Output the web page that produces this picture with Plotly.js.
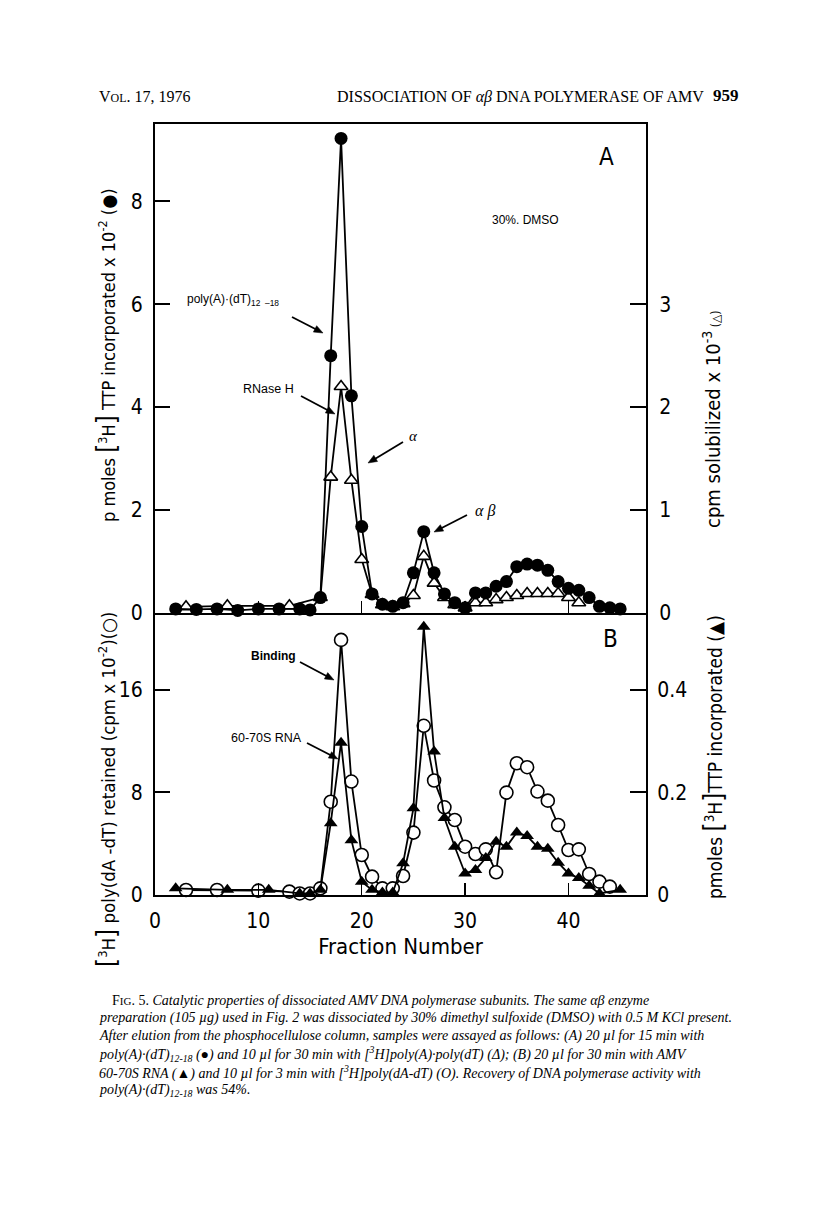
<!DOCTYPE html>
<html><head><meta charset="utf-8">
<script src="https://cdn.plot.ly/plotly-3.0.1.min.js"></script>
<style>html,body{margin:0;padding:0;background:#fff}</style>
</head><body><div id="chart" style="width:816px;height:1207px"></div>
<script>
// ---------- DATA ----------
// Panel A: pmoles [3H]TTP incorporated x 10^-2 with poly(A)·(dT)12-18 (filled circles, left axis)
const fractionsA_circ = [2,4,6,8,10,12,14,15,16,17,18,19,20,21,22,23,24,25,26,27,28,29,30,31,32,33,34,35,36,37,38,39,40,41,42,43,44,45];
const pmolesA_circ   = [0.08,0.07,0.08,0.05,0.08,0.08,0.08,0.06,0.3,5.0,9.22,4.22,1.68,0.37,0.17,0.13,0.2,0.78,1.58,0.78,0.37,0.2,0.1,0.39,0.39,0.52,0.61,0.9,0.95,0.93,0.83,0.61,0.48,0.44,0.3,0.13,0.1,0.08];
// Panel A: cpm solubilized x 10^-3 (RNase H, open triangles, right axis)
const fractionsA_tri = [3,7,13,16,17,18,19,20,21,22,23,24,25,26,27,28,29,30,31,32,33,34,35,36,37,38,39,40,41];
const cpmA_tri       = [0.06,0.07,0.07,0.15,1.32,2.2,1.29,0.52,0.18,0.08,0.06,0.09,0.17,0.55,0.29,0.15,0.08,0.05,0.1,0.1,0.13,0.15,0.17,0.19,0.19,0.19,0.19,0.15,0.1];
// Panel B: [3H]poly(dA-dT) retained, cpm x 10^-2 (Binding, open circles, left axis)
const fractionsB_circ = [3,6,10,13,14,15,16,17,18,19,20,21,22,23,24,25,26,27,28,29,30,31,32,33,34,35,36,37,38,39,40,41,42,43,44];
const bindingB_circ   = [0.39,0.39,0.34,0.26,0.12,0.12,0.52,7.28,19.9,8.85,3.12,1.43,0.52,0.52,1.48,4.87,13.2,8.93,6.84,5.85,3.77,3.2,3.56,1.77,7.99,10.28,9.97,8.07,7.36,5.46,3.51,3.56,1.64,1.04,0.65];
// Panel B: pmoles [3H]TTP incorporated with 60-70S RNA (filled triangles, right axis)
const fractionsB_tri = [2,7,11,14,15,16,17,18,19,20,21,22,23,24,25,26,27,28,29,30,31,32,33,34,35,36,37,38,39,40,41,42,43,45];
const pmolesB_tri    = [0.013,0.01,0.01,0.003,0.003,0.01,0.14,0.297,0.107,0.026,0.01,0.005,0.005,0.062,0.169,0.523,0.28,0.15,0.094,0.042,0.049,0.072,0.104,0.094,0.122,0.115,0.094,0.09,0.063,0.042,0.033,0.018,0.003,0.01];

const xTicks = [0,10,20,30,40];
const yTicksA_left = [0,2,4,6,8];
const yTicksA_right = [0,1,2,3];
const yTicksB_left = [0,8,16];
const yTicksB_right = [0,0.2,0.4];
const yTickTextB_right = ['0','0.2','0.4'];

// ---------- LAYOUT HELPERS ----------
const L = 155, R = 646, T = 124, B = 895, SPLIT = 613;
const W = 816, H = 1207;
const px = x => (x - L) / (R - L);
const py = y => (B - y) / (B - T);
const splitDom = py(SPLIT);

const SANS = "Liberation Sans Narrow, DejaVu Sans Condensed, Liberation Sans, Arial, sans-serif";
const PLAIN = "Liberation Sans, Arial, sans-serif";
const SERIF = "Liberation Serif, DejaVu Serif, Times New Roman, serif";

const lineStyle = {color: '#000', width: 1.8};

const traces = [
  { x: fractionsA_tri, y: cpmA_tri, xaxis: 'x2', yaxis: 'y', mode: 'lines+markers',
    line: lineStyle, marker: {symbol: 'triangle-up', size: 12, color: '#fff', line: {color: '#000', width: 1.6}},
    name: 'RNase H', showlegend: false, cliponaxis: false },
  { x: fractionsA_circ, y: pmolesA_circ, xaxis: 'x2', yaxis: 'y2', mode: 'lines+markers',
    line: lineStyle, marker: {symbol: 'circle', size: 13, color: '#000'},
    name: 'poly(A)·(dT)12-18', showlegend: false, cliponaxis: false },
  { x: fractionsB_circ, y: bindingB_circ, xaxis: 'x', yaxis: 'y3', mode: 'lines+markers',
    line: lineStyle, marker: {symbol: 'circle', size: 13, color: '#fff', line: {color: '#000', width: 1.6}},
    name: 'Binding', showlegend: false, cliponaxis: false },
  { x: fractionsB_tri, y: pmolesB_tri, xaxis: 'x', yaxis: 'y4', mode: 'lines+markers',
    line: lineStyle, marker: {symbol: 'triangle-up', size: 12, color: '#000'},
    name: '60-70S RNA', showlegend: false, cliponaxis: false }
];

const axCommon = {showgrid: false, zeroline: false, showline: true, linecolor: '#000', linewidth: 2,
  ticks: 'inside', tickcolor: '#000', tickwidth: 2, fixedrange: true,
  tickfont: {family: SANS, size: 21, color: '#000'}};

function ann(text, x, y, opts) {
  return Object.assign({text: text, x: px(x), y: py(y), xref: 'paper', yref: 'paper',
    showarrow: false, xanchor: 'center', yanchor: 'middle',
    font: {family: SANS, size: 13, color: '#000'}}, opts || {});
}
// pointer arrows drawn as shapes (line + filled head), from tail (tx,ty) to head (hx,hy) in page pixels
const shapes = [];
function arrow(hx, hy, tx, ty) {
  const dx = hx - tx, dy = hy - ty, len = Math.hypot(dx, dy);
  const ux = dx / len, uy = dy / len, nx = -uy, ny = ux;
  const hl = 9, hw = 3.6;
  const bx = hx - ux * hl, by = hy - uy * hl;
  shapes.push({type: 'line', xref: 'paper', yref: 'paper', x0: px(tx), y0: py(ty), x1: px(bx + ux * 2), y1: py(by + uy * 2),
    line: {color: '#000', width: 1.8}});
  shapes.push({type: 'path', xref: 'paper', yref: 'paper', fillcolor: '#000', line: {color: '#000', width: 0.5},
    path: `M ${px(hx)} ${py(hy)} L ${px(bx + nx * hw)} ${py(by + ny * hw)} L ${px(bx - nx * hw)} ${py(by - ny * hw)} Z`});
}
const big = s => "<span style='font-size:26px'>" + s + "</span>";

const annotations = [
  // header
  ann("V<span style='font-size:12px'>OL</span>. 17, 1976", 97, 97, {xanchor: 'left', font: {family: SERIF, size: 16, color: '#000'}}),
  ann("DISSOCIATION OF <i>αβ</i> DNA POLYMERASE OF AMV", 706, 97, {xanchor: 'right', font: {family: SERIF, size: 16, color: '#000'}}),
  ann("<b>959</b>", 711, 96, {xanchor: 'left', font: {family: SERIF, size: 17, color: '#000'}}),
  // panel letters and notes
  ann("A", 606, 157, {font: {family: SANS, size: 24, color: '#000'}}),
  ann("B", 610, 639, {font: {family: SANS, size: 24, color: '#000'}}),
  ann("30%. DMSO", 525, 220, {font: {family: PLAIN, size: 12, color: '#000'}}),
  ann("poly(A)·(dT)<sub>12  –18</sub>", 185, 300, {xanchor: 'left', font: {family: PLAIN, size: 12, color: '#000'}}),
  ann("RNase H", 241, 389, {xanchor: 'left', font: {family: PLAIN, size: 12.5, color: '#000'}}),
  ann("<i>α</i>", 413, 436, {font: {family: SERIF, size: 15, color: '#000'}}),
  ann("<i>α β</i>", 485, 511, {font: {family: SERIF, size: 16, color: '#000'}}),
  ann("<b>Binding</b>", 249, 656, {xanchor: 'left', font: {family: PLAIN, size: 12, color: '#000'}}),
  ann("60-70S RNA", 229, 738, {xanchor: 'left', font: {family: PLAIN, size: 12.5, color: '#000'}}),
  // axis titles
  ann("p moles " + big("[") + "<sup>3</sup>H" + big("]") + " TTP incorporated x 10<sup>-2</sup> (●)", 106, 355,
      {textangle: -90, font: {family: SANS, size: 18, color: '#000'}}),
  ann("cpm solubilized x 10<sup>-3</sup><span style='font-size:12px'> (△)</span>", 712, 420,
      {textangle: -90, font: {family: SANS, size: 20, color: '#000'}}),
  ann(big("[") + "<sup>3</sup>H" + big("]") + " poly(dA -dT) retained (cpm x 10<sup>-2</sup>)(○)", 106, 790,
      {textangle: -90, font: {family: SANS, size: 18.5, color: '#000'}}),
  ann("pmoles " + big("[") + "<sup>3</sup>H" + big("]") + "TTP incorporated (▲)", 713, 757,
      {textangle: -90, font: {family: SANS, size: 19, color: '#000'}}),
];
arrow(323, 333, 292, 317);
arrow(335, 414, 301, 396);
arrow(368, 463, 403, 442);
arrow(434, 532, 467, 515);
arrow(334, 680, 300, 662);
arrow(338, 759, 307, 743);

// caption
const capFont = {family: SERIF, size: 14, color: '#000'};
const capLines = [
  ["F<span style='font-size:11px'>IG</span>. 5. <i>Catalytic properties of dissociated AMV DNA polymerase subunits. The same αβ enzyme</i>", 110],
  ["<i>preparation (105 µg) used in Fig. 2 was dissociated by 30% dimethyl sulfoxide (DMSO) with 0.5 M KCl present.</i>", 97],
  ["<i>After elution from the phosphocellulose column, samples were assayed as follows: (A) 20 µl for 15 min with</i>", 97],
  ["<i>poly(A)·(dT)<sub>12-18</sub> (●) and 10 µl for 30 min with [<sup>3</sup>H]poly(A)·poly(dT) (Δ); (B) 20 µl for 30 min with AMV</i>", 97],
  ["<i>60-70S RNA (▲) and 10 µl for 3 min with [<sup>3</sup>H]poly(dA-dT) (O). Recovery of DNA polymerase activity with</i>", 97],
  ["<i>poly(A)·(dT)<sub>12-18</sub> was 54%.</i>", 97]
];
capLines.forEach((c, i) => annotations.push(ann(c[0], c[1], 1000 + i * 18, {xanchor: 'left', font: capFont})));

const layout = {
  width: W, height: H, paper_bgcolor: '#fff', plot_bgcolor: '#fff',
  margin: {l: L, r: W - R, t: T, b: H - B, pad: 0},
  showlegend: false,
  xaxis: Object.assign({}, axCommon, {domain: [0, 1], range: [0, 47.5], anchor: 'y3',
    tickvals: xTicks, ticklen: 12, tickwidth: 1.5, ticklabelstandoff: 6,
    title: {text: 'Fraction Number', font: {family: SANS, size: 22, color: '#000'}, standoff: 6}}),
  xaxis2: Object.assign({}, axCommon, {domain: [0, 1], matches: 'x', anchor: 'y', mirror: true,
    tickvals: xTicks, ticklen: 12, tickwidth: 1.5, showticklabels: false}),
  yaxis: Object.assign({}, axCommon, {domain: [splitDom, 1], range: [0, 4.75], anchor: 'x2', side: 'right',
    tickvals: yTicksA_right, ticklen: 16, ticklabelstandoff: 7}),
  yaxis2: Object.assign({}, axCommon, {domain: [splitDom, 1], range: [0, 9.5], anchor: 'x2', overlaying: 'y', side: 'left',
    tickvals: yTicksA_left, ticklen: 15, ticklabelstandoff: 6}),
  yaxis3: Object.assign({}, axCommon, {domain: [0, splitDom], range: [0, 22], anchor: 'x', side: 'left',
    tickvals: yTicksB_left, ticklen: 15, ticklabelstandoff: 6}),
  yaxis4: Object.assign({}, axCommon, {domain: [0, splitDom], range: [0, 0.55], anchor: 'x', overlaying: 'y3', side: 'right',
    tickvals: yTicksB_right, ticktext: yTickTextB_right, ticklen: 16, ticklabelstandoff: 5}),
  annotations: annotations,
  shapes: shapes
};

Plotly.newPlot('chart', traces, layout, {staticPlot: true, displayModeBar: false});
</script></body></html>
